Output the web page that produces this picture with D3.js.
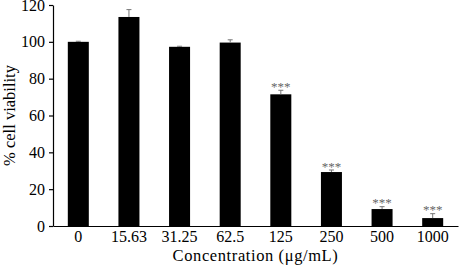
<!DOCTYPE html>
<html>
<head>
<meta charset="utf-8">
<script src="https://cdn.jsdelivr.net/npm/d3@7"></script>
<style>
  body { margin: 0; background: #fff; }
  svg { display: block; }
</style>
</head>
<body>
<svg id="chart" width="459" height="267"></svg>
<script>
const categories = ["0", "15.63", "31.25", "62.5", "125", "250", "500", "1000"];
const values = [100, 113.5, 97.3, 99.6, 71.5, 29.3, 9.2, 4.3];
const errors = [0.3, 4, 0.3, 1.5, 2.2, 1.1, 1.3, 2.4];
const significance = ["", "", "", "", "***", "***", "***", "***"];
const yTicks = [0, 20, 40, 60, 80, 100, 120];

(function () {
const svg = d3.select("#chart");
const mLeft = 53, mRight = 458, mTop = 5, mBottom = 226;
const font = "'Liberation Serif', 'Times New Roman', serif";
const fs = 16;

const x = d3.scaleBand().domain(categories).range([mLeft, mRight])
  .paddingInner(0.585).paddingOuter(0.2925);
const y = d3.scaleLinear().domain([0, 120]).range([mBottom, mTop]);

// bars
svg.append("g").selectAll("rect").data(categories).join("rect")
  .attr("x", d => x(d))
  .attr("width", x.bandwidth())
  .attr("y", (d, i) => y(values[i]))
  .attr("height", (d, i) => y(0) - y(values[i]))
  .attr("fill", "#000");

// error bars
const eg = svg.append("g").attr("stroke", "#777").attr("stroke-width", 1);
categories.forEach((c, i) => {
  const cx = x(c) + x.bandwidth() / 2;
  const yt = y(values[i] + errors[i]);
  eg.append("line").attr("x1", cx).attr("x2", cx).attr("y1", y(values[i])).attr("y2", yt);
  eg.append("line").attr("x1", cx - 2.5).attr("x2", cx + 2.5).attr("y1", yt).attr("y2", yt);
});

// significance stars
svg.append("g").selectAll("text").data(categories).join("text")
  .attr("x", d => x(d) + x.bandwidth() / 2)
  .attr("y", (d, i) => y(values[i] + errors[i]) + 0.5)
  .attr("text-anchor", "middle")
  .attr("font-family", font)
  .attr("font-size", 13)
  .attr("fill", "#666")
  .text((d, i) => significance[i]);

// y axis
const yAxis = svg.append("g").attr("transform", `translate(${mLeft},0)`)
  .call(d3.axisLeft(y).tickValues(yTicks).tickSize(4).tickPadding(4).tickSizeOuter(0));
yAxis.select(".domain").attr("stroke", "#000").attr("stroke-width", 1.2);
yAxis.selectAll(".tick line").attr("stroke", "#000").attr("stroke-width", 1.2);
yAxis.selectAll(".tick text").attr("font-family", font).attr("font-size", fs).attr("fill", "#000");

// x axis
const xAxis = svg.append("g").attr("transform", `translate(0,${mBottom})`)
  .call(d3.axisBottom(x).tickSize(0).tickPadding(5).tickSizeOuter(0));
xAxis.select(".domain").attr("stroke", "#000").attr("stroke-width", 1.2);
xAxis.selectAll(".tick text").attr("font-family", font).attr("font-size", fs).attr("fill", "#000");

// axis titles
svg.append("text")
  .attr("x", (mLeft + mRight) / 2).attr("y", 261)
  .attr("text-anchor", "middle")
  .attr("font-family", font).attr("font-size", 16.5)
  .attr("letter-spacing", 0.6)
  .text("Concentration (μg/mL)");

svg.append("text")
  .attr("transform", `translate(15,${(mTop + mBottom) / 2}) rotate(-90)`)
  .attr("text-anchor", "middle")
  .attr("font-family", font).attr("font-size", 16.5)
  .text("% cell viability");
})();
</script>
</body>
</html>
